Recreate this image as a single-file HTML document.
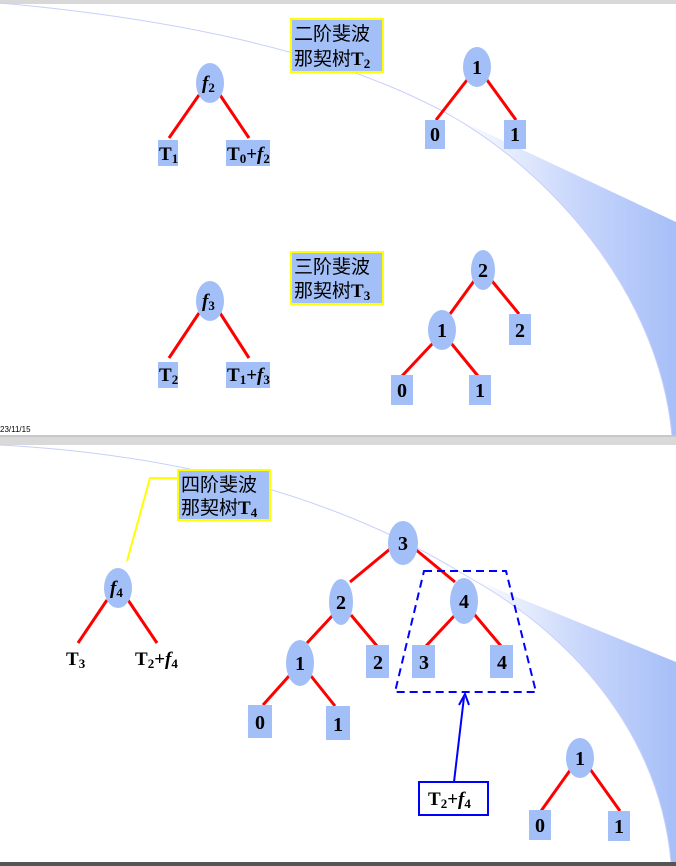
<!DOCTYPE html>
<html><head><meta charset="utf-8"><style>
html,body{margin:0;padding:0;background:#fff}
svg{display:block}
text{font-family:"Liberation Serif","Noto Serif CJK SC",serif;font-weight:bold;fill:#000}
.cj{font-family:"Liberation Serif","Noto Sans CJK SC",sans-serif;font-weight:normal}
</style></head><body>
<svg width="676" height="866" viewBox="0 0 676 866" xmlns="http://www.w3.org/2000/svg">
<defs>
<linearGradient id="g" x1="0" y1="0" x2="1" y2="0">
<stop offset="0" stop-color="#fff"/><stop offset="0.55" stop-color="#c8d6fb"/><stop offset="1" stop-color="#a6bff8"/>
</linearGradient>
</defs>
<rect x="0" y="0" width="676" height="4" fill="#d8d8d8"/>
<path d="M 0,3 Q 300,30 455,118" fill="none" stroke="#c8cffa" stroke-width="1"/>
<path d="M 455,118 L 676,222 L 676,436 L 672,436 C 660,300 560,180 455,118 Z" fill="url(#g)"/>
<path d="M 455,118 C 560,180 660,300 672,436" fill="none" stroke="#c8cffa" stroke-width="1"/>
<rect x="0" y="436" width="676" height="9" fill="#d9d9d9"/>
<rect x="0" y="435" width="676" height="2" fill="#c8c8c8"/>
<text x="0" y="432" style="font-family:'Liberation Sans',sans-serif;font-weight:normal;font-size:8px">23/11/15</text>
<path d="M 0,445 Q 280,460 470,578" fill="none" stroke="#c8cffa" stroke-width="1"/>
<path d="M 470,578 L 676,662 L 676,862 L 671,862 C 660,740 580,640 470,578 Z" fill="url(#g)"/>
<path d="M 470,578 C 580,640 660,740 671,862" fill="none" stroke="#c8cffa" stroke-width="1"/>
<rect x="0" y="862" width="676" height="4" fill="#555"/>

<g stroke="#ff0000" stroke-width="3" fill="none">
<line x1="199" y1="95" x2="169" y2="138"/><line x1="220" y1="95" x2="249" y2="138"/>
<line x1="467" y1="80" x2="436" y2="120"/><line x1="487" y1="80" x2="516" y2="120"/>
<line x1="199" y1="313" x2="169" y2="358"/><line x1="220" y1="313" x2="249" y2="358"/>
<line x1="474" y1="281" x2="450" y2="314"/><line x1="492" y1="281" x2="519" y2="314"/>
<line x1="433" y1="343" x2="402" y2="376"/><line x1="451" y1="343" x2="478" y2="376"/>
<line x1="107" y1="600" x2="78" y2="643"/><line x1="128" y1="600" x2="157" y2="643"/>
<line x1="390" y1="549" x2="350" y2="582"/><line x1="415" y1="549" x2="455" y2="582"/>
<line x1="333" y1="615" x2="307" y2="643"/><line x1="351" y1="615" x2="377" y2="646"/>
<line x1="456" y1="614" x2="426" y2="646"/><line x1="474" y1="614" x2="501" y2="646"/>
<line x1="289" y1="676" x2="263" y2="705"/><line x1="311" y1="676" x2="335" y2="706"/>
<line x1="571" y1="769" x2="541" y2="811"/><line x1="590" y1="769" x2="620" y2="811"/>
</g>

<g fill="#a3bff8">
<ellipse cx="210" cy="83" rx="14" ry="20"/>
<ellipse cx="477" cy="67" rx="14" ry="20"/>
<ellipse cx="210" cy="301" rx="14" ry="20"/>
<ellipse cx="483" cy="270" rx="12" ry="20"/>
<ellipse cx="442" cy="330" rx="14" ry="20"/>
<ellipse cx="118" cy="588" rx="14" ry="20"/>
<ellipse cx="403" cy="543" rx="15" ry="22"/>
<ellipse cx="341" cy="602" rx="12" ry="23"/>
<ellipse cx="464" cy="601" rx="14" ry="23"/>
<ellipse cx="300" cy="663" rx="14" ry="23"/>
<ellipse cx="580" cy="758" rx="14" ry="20"/>
<rect x="158" y="140" width="20" height="26"/><rect x="226" y="140" width="44" height="26"/>
<rect x="425" y="120" width="20" height="29"/><rect x="504" y="120" width="22" height="29"/>
<rect x="158" y="362" width="20" height="26"/><rect x="226" y="362" width="44" height="26"/>
<rect x="509" y="314" width="22" height="31"/>
<rect x="391" y="375" width="22" height="30"/><rect x="469" y="375" width="22" height="30"/>
<rect x="366" y="645" width="23" height="33"/><rect x="412" y="645" width="23" height="33"/><rect x="490" y="645" width="23" height="33"/>
<rect x="248" y="705" width="24" height="33"/><rect x="326" y="706" width="24" height="34"/>
<rect x="529" y="810" width="22" height="30"/><rect x="608" y="811" width="22" height="30"/>
</g>

<rect x="291" y="19" width="92" height="53" fill="#a3bff8" stroke="#ffff00" stroke-width="2"/>
<text class="cj" x="294" y="40" font-size="19">二阶斐波</text>
<text class="cj" x="294" y="65" font-size="19">那契树<tspan style="font-family:'Liberation Serif';font-weight:bold">T</tspan><tspan font-size="13" dy="3" style="font-family:'Liberation Serif';font-weight:bold">2</tspan></text>
<rect x="291" y="252" width="92" height="52" fill="#a3bff8" stroke="#ffff00" stroke-width="2"/>
<text class="cj" x="294" y="273" font-size="19">三阶斐波</text>
<text class="cj" x="294" y="297" font-size="19">那契树<tspan style="font-family:'Liberation Serif';font-weight:bold">T</tspan><tspan font-size="13" dy="3" style="font-family:'Liberation Serif';font-weight:bold">3</tspan></text>
<rect x="178" y="470" width="92" height="50" fill="#a3bff8" stroke="#ffff00" stroke-width="2"/>
<text class="cj" x="181" y="491" font-size="19">四阶斐波</text>
<text class="cj" x="181" y="514" font-size="19">那契树<tspan style="font-family:'Liberation Serif';font-weight:bold">T</tspan><tspan font-size="13" dy="3" style="font-family:'Liberation Serif';font-weight:bold">4</tspan></text>
<polyline points="177,478 150,478 127,561" fill="none" stroke="#ffff00" stroke-width="2"/>

<g font-size="19">
<text x="202" y="89"><tspan font-style="italic">f</tspan><tspan font-size="13" dy="3">2</tspan></text>
<text x="159" y="160">T<tspan font-size="13" dy="3">1</tspan></text>
<text x="227" y="160">T<tspan font-size="13" dy="3">0</tspan><tspan dy="-3">+</tspan><tspan font-style="italic">f</tspan><tspan font-size="13" dy="3">2</tspan></text>
<text x="202" y="307"><tspan font-style="italic">f</tspan><tspan font-size="13" dy="3">3</tspan></text>
<text x="159" y="381">T<tspan font-size="13" dy="3">2</tspan></text>
<text x="227" y="381">T<tspan font-size="13" dy="3">1</tspan><tspan dy="-3">+</tspan><tspan font-style="italic">f</tspan><tspan font-size="13" dy="3">3</tspan></text>
<text x="110" y="594"><tspan font-style="italic">f</tspan><tspan font-size="13" dy="3">4</tspan></text>
<text x="66" y="665">T<tspan font-size="13" dy="3">3</tspan></text>
<text x="135" y="665">T<tspan font-size="13" dy="3">2</tspan><tspan dy="-3">+</tspan><tspan font-style="italic">f</tspan><tspan font-size="13" dy="3">4</tspan></text>
</g>
<g font-size="20" text-anchor="middle">
<text x="477" y="74">1</text><text x="435" y="141">0</text><text x="515" y="141">1</text>
<text x="483" y="277">2</text><text x="442" y="337">1</text><text x="520" y="337">2</text>
<text x="402" y="397">0</text><text x="480" y="397">1</text>
<text x="403" y="550">3</text><text x="341" y="609">2</text><text x="464" y="608">4</text><text x="300" y="670">1</text>
<text x="378" y="669">2</text><text x="424" y="669">3</text><text x="502" y="669">4</text>
<text x="260" y="729">0</text><text x="338" y="731">1</text>
<text x="580" y="765">1</text><text x="540" y="832">0</text><text x="619" y="833">1</text>
</g>

<polygon points="424,571 506,571 536,692 395,692" fill="none" stroke="#0000ff" stroke-width="2" stroke-dasharray="8,5"/>
<line x1="454" y1="782" x2="464" y2="697" stroke="#0000ff" stroke-width="2"/>
<polyline points="459,705 465,694 469,705" fill="none" stroke="#0000ff" stroke-width="2"/>
<rect x="419" y="782" width="69" height="33" fill="#fff" stroke="#0000ff" stroke-width="2"/>
<text x="428" y="805" font-size="19">T<tspan font-size="13" dy="3">2</tspan><tspan dy="-3">+</tspan><tspan font-style="italic">f</tspan><tspan font-size="13" dy="3">4</tspan></text>
</svg>
</body></html>
